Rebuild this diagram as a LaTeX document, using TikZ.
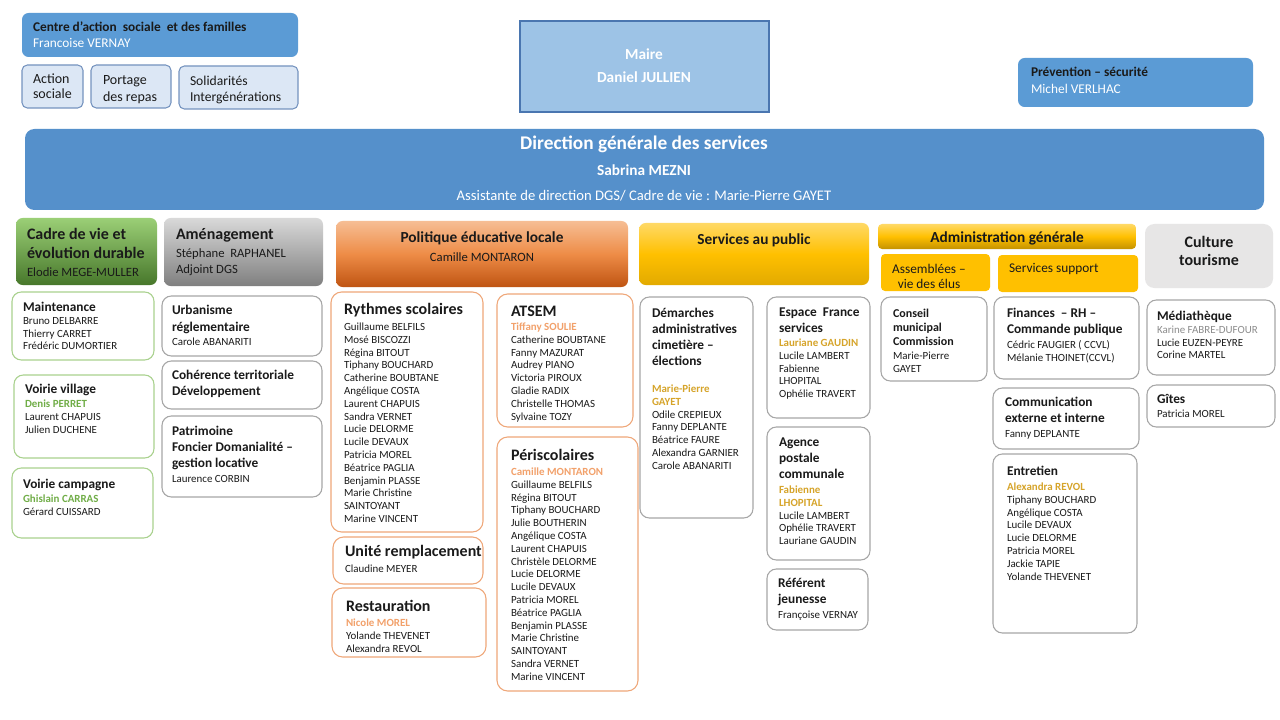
\documentclass[tikz,border=0pt]{standalone}
\usepackage{fontspec}
\setmainfont{Carlito}
\definecolor{txt}{HTML}{1A1A1A}
\definecolor{cblue}{HTML}{5B9BD5}
\definecolor{cdgs}{HTML}{5590CB}
\definecolor{cmaire}{HTML}{9DC3E6}
\definecolor{cmairel}{HTML}{4A76B0}
\definecolor{clight}{HTML}{DCE7F5}
\definecolor{clightl}{HTML}{7593BF}
\definecolor{bgreen}{HTML}{A9D18E}
\definecolor{bgray}{HTML}{A6A6A6}
\definecolor{borange}{HTML}{EFA779}
\definecolor{ngreen}{HTML}{70AD47}
\definecolor{norange}{HTML}{F2A16B}
\definecolor{ngold}{HTML}{D6A42A}
\definecolor{ngray}{HTML}{8C8C8C}
\definecolor{cgold}{HTML}{FFC000}
\definecolor{cculture}{HTML}{E7E6E6}
\definecolor{gtop}{HTML}{9BCF76}
\definecolor{gbot}{HTML}{47772B}
\definecolor{grtop}{HTML}{D9D9D9}
\definecolor{grbot}{HTML}{7F7F7F}
\definecolor{otop}{HTML}{F6BE94}
\definecolor{omid}{HTML}{EE8C47}
\definecolor{obot}{HTML}{BF5412}
\definecolor{ytop}{HTML}{FFD966}
\definecolor{ymid}{HTML}{FFC000}
\definecolor{ybot}{HTML}{E2AA00}
\definecolor{abot}{HTML}{C49200}

\newcommand\fN{\fontsize{8.2}{9.6}\selectfont}
\newcommand\fT{\fontsize{10}{12}\selectfont\bfseries}
\newcommand\fTs{\fontsize{9}{11}\selectfont\bfseries}
\newcommand\fL{\fontsize{12}{14}\selectfont\bfseries}
\newcommand\fs{\rule{0pt}{9pt}}
\newcommand\obox[6]{\node[#2, anchor=north west, minimum width={(#5-#3)*0.75pt}, minimum height={(#6-#4)*0.75pt}] (#1) at (#3,#4) {};}

\begin{document}
\begin{tikzpicture}[x=0.75pt,y=-0.75pt,
  every node/.style={inner sep=0pt, outer sep=0pt},
  wbox/.style={draw=bgray, line width=0.8pt, rounded corners=7pt, fill=white},
  gbox/.style={draw=bgreen, line width=0.8pt, rounded corners=7pt, fill=white},
  orbox/.style={draw=borange, line width=0.8pt, rounded corners=8pt, fill=white},
  sbox/.style={draw=clightl, line width=0.8pt, rounded corners=4pt, fill=clight},
  hbox/.style={draw=none, rounded corners=5pt},
  lbl/.style={anchor=north west, align=left, text=txt, font=\fN, yshift=5.7pt},
  lblc/.style={anchor=north, align=center, text=txt, font=\fN, yshift=5.7pt},
  ctr/.style={anchor=center, align=center, text=txt}
]
\fill[white] (0,0) rectangle (1280,720);
\useasboundingbox (0,0) rectangle (1280,720);

% ---------- top row ----------
\obox{ccas}{hbox, fill=cblue}{22}{13}{298}{57}
\node[lbl, font=\fontsize{10}{12}\selectfont] (ccas-t) at (33,27) {\fs\textbf{Centre d’action~ sociale~ et des familles}\\ \textcolor{white}{Francoise VERNAY}};
\obox{act}{sbox}{22}{65}{83}{108}
\node[lbl, font=\fontsize{10.5}{11.25}\selectfont] (act-t) at (33,79) {\fs Action\\ sociale};
\obox{port}{sbox}{91}{65}{171}{108}
\node[lbl, font=\fontsize{10.5}{12.75}\selectfont] (port-t) at (103,80) {\fs Portage\\ des repas};
\obox{sol}{sbox}{179}{66}{298}{109}
\node[lbl, font=\fontsize{10.2}{12}\selectfont] (sol-t) at (190,81) {\fs Solidarités\\ Intergénérations};

\obox{maire}{draw=cmairel, line width=0.8pt, fill=cmaire}{520}{21}{769}{112}
\node[ctr, text=white, font=\fontsize{11.5}{17}\selectfont\bfseries] (maire-t) at (644,65.5) {Maire\\ Daniel JULLIEN};

\obox{prev}{hbox, fill=cblue}{1018}{58}{1253}{107}
\node[lbl, font=\fontsize{10}{12.75}\selectfont] (prev-t) at (1031,72) {\fs\textbf{Prévention – sécurité}\\ \textcolor{white}{Michel VERLHAC}};

% ---------- DGS ----------
\obox{dgs}{hbox, rounded corners=7pt, fill=cdgs}{25}{129}{1264}{210}
\node[ctr, text=white, font=\fontsize{14.5}{16}\selectfont\bfseries] (dgs-t1) at (644,144) {Direction générale des services};
\node[ctr, text=white, font=\fontsize{11.5}{13}\selectfont\bfseries] (dgs-t2) at (644,170) {Sabrina MEZNI};
\node[ctr, text=white, font=\fontsize{11}{13}\selectfont] (dgs-t3) at (644,196) {Assistante de direction DGS/ Cadre de vie : Marie-Pierre GAYET};

% ---------- headers ----------
\obox{hcadre}{hbox, top color=gtop, bottom color=gbot}{16}{218}{157}{285}
\node[lbl, font=\fontsize{12}{14.25}\selectfont\bfseries] (hcadre-t) at (27,235) {\fs Cadre de vie et\\ évolution durable\\[-0.9pt] {\fontsize{9.5}{11}\selectfont\mdseries Elodie MEGE-MULLER}};

\obox{ham}{hbox, top color=grtop, bottom color=grbot}{164}{218}{323}{286}
\node[lbl, font=\fontsize{9.5}{12}\selectfont] (ham-t) at (176,235) {\fs{\fL Aménagement}\\[1.5pt] Stéphane~ RAPHANEL\\ Adjoint DGS};

\obox{hpol}{hbox, top color=otop, bottom color=obot, middle color=omid}{336}{221}{628}{287}
\node[lblc, font=\fontsize{9.5}{14.25}\selectfont] (hpol-t) at (482,238) {\fs{\fontsize{11.5}{14}\selectfont\bfseries Politique éducative locale}\\ Camille MONTARON};

\obox{hsp}{hbox, top color=ytop, bottom color=ybot, middle color=ymid}{639}{223}{869}{285}
\node[ctr, font=\fontsize{11.5}{14}\selectfont\bfseries] (hsp-t) at (754,240) {Services au public};

\obox{hadm}{hbox, rounded corners=3pt, top color=ytop, bottom color=abot, middle color=ymid}{878}{224}{1136}{249}
\node[ctr, font=\fontsize{11.5}{14}\selectfont\bfseries] (hadm-t) at (1007,238) {Administration générale};

\obox{hass}{hbox, rounded corners=3pt, fill=cgold}{881}{254}{990}{291}
\node[ctr, font=\fontsize{10}{11.25}\selectfont] (hass-t) at (929,276) {Assemblées –\\ vie des élus};
\obox{hsup}{hbox, rounded corners=3pt, fill=cgold}{998}{255}{1138}{292}
\node[ctr, anchor=west, font=\fontsize{10}{12}\selectfont] (hsup-t) at (1009,269) {Services support};

\obox{hcul}{hbox, rounded corners=7pt, fill=cculture}{1145}{224}{1273}{288}
\node[ctr, font=\fontsize{12}{13.5}\selectfont\bfseries] (hcul-t) at (1209,251) {Culture\\ tourisme};

% ---------- column 1 ----------
\obox{mnt}{gbox}{12}{292}{154}{360}
\node[lbl] (mnt-t) at (23,307) {\fs{\fT Maintenance}\\ Bruno DELBARRE\\ Thierry CARRET\\ Frédéric DUMORTIER};
\obox{vv}{gbox}{14}{375}{154}{458}
\node[lbl] (vv-t) at (25,389) {\fs{\fT Voirie village}\\[0.9pt] \textcolor{ngreen}{\bfseries Denis PERRET}\\ Laurent CHAPUIS\\ Julien DUCHENE};
\obox{vc}{gbox}{12}{468}{153}{538}
\node[lbl] (vc-t) at (23,484) {\fs{\fT Voirie campagne}\\[0.9pt] \textcolor{ngreen}{\bfseries Ghislain CARRAS}\\ Gérard CUISSARD};

% ---------- column 2 ----------
\obox{urb}{wbox}{162}{296}{322}{356}
\node[lbl] (urb-t) at (172,310) {\fs{\fT Urbanisme}\\[3.15pt] {\fT réglementaire}\\[0.9pt] Carole ABANARITI};
\obox{coh}{wbox}{162}{361}{322}{409}
\node[lbl] (coh-t) at (172,375) {\fs{\fT Cohérence territoriale}\\[2.4pt] {\fT Développement}};
\obox{pat}{wbox}{162}{416}{322}{497}
\node[lbl] (pat-t) at (172,431) {\fs{\fT Patrimoine}\\[2.4pt] {\fT Foncier Domanialité –}\\[2.4pt] {\fT gestion locative}\\[1.65pt] Laurence CORBIN};

% ---------- column 3 ----------
\obox{ryt}{orbox}{331}{292}{483}{532}
\node[lbl] (ryt-t) at (344,310) {\fs{\fL Rythmes scolaires}\\[2.4pt] Guillaume BELFILS\\ Mosé BISCOZZI\\ Régina BITOUT\\ Tiphany BOUCHARD\\ Catherine BOUBTANE\\ Angélique COSTA\\ Laurent CHAPUIS\\ Sandra VERNET\\ Lucie DELORME\\ Lucile DEVAUX\\ Patricia MOREL\\ Béatrice PAGLIA\\ Benjamin PLASSE\\ Marie Christine\\ SAINTOYANT\\ Marine VINCENT};
\obox{uni}{orbox}{333}{537}{483}{584}
\node[lbl] (uni-t) at (345,552) {\fs{\fL Unité remplacement}\\[2.4pt] Claudine MEYER};
\obox{res}{orbox}{332}{588}{486}{657}
\node[lbl] (res-t) at (346,607) {\fs{\fL Restauration}\\[1.65pt] \textcolor{norange}{\bfseries Nicole MOREL}\\ Yolande THEVENET\\ Alexandra REVOL};
\obox{ats}{orbox}{497}{294}{633}{427}
\node[lbl] (ats-t) at (511,312) {\fs{\fL ATSEM}\\[0.9pt] \textcolor{norange}{\bfseries Tiffany SOULIE}\\ Catherine BOUBTANE\\ Fanny MAZURAT\\ Audrey PIANO\\ Victoria PIROUX\\ Gladie RADIX\\ Christelle THOMAS\\ Sylvaine TOZY};
\obox{per}{orbox}{497}{437}{638}{691}
\node[lbl] (per-t) at (511,456) {\fs{\fL Périscolaires}\\[1.65pt] \textcolor{norange}{\bfseries Camille MONTARON}\\ Guillaume BELFILS\\ Régina BITOUT\\ Tiphany BOUCHARD\\ Julie BOUTHERIN\\ Angélique COSTA\\ Laurent CHAPUIS\\ Christèle DELORME\\ Lucie DELORME\\ Lucile DEVAUX\\ Patricia MOREL\\ Béatrice PAGLIA\\ Benjamin PLASSE\\ Marie Christine\\ SAINTOYANT\\ Sandra VERNET\\ Marine VINCENT};

% ---------- column 4 ----------
\obox{dem}{wbox}{640}{297}{753}{518}
\node[lbl] (dem-t) at (652,313) {\fs{\fT Démarches}\\[2.4pt] {\fT administratives}\\[2.4pt] {\fT cimetière –}\\[2.4pt] {\fT élections}\\[10.65pt] \textcolor{ngold}{\bfseries Marie-Pierre}\\ \textcolor{ngold}{\bfseries GAYET}\\ Odile CREPIEUX\\ Fanny DEPLANTE\\ Béatrice FAURE\\ Alexandra GARNIER\\ Carole ABANARITI};
\obox{esp}{wbox}{767}{297}{870}{418}
\node[lbl] (esp-t) at (779,312) {\fs{\fT Espace~ France}\\[2.4pt] {\fT services}\\[0.9pt] \textcolor{ngold}{\bfseries Lauriane GAUDIN}\\ Lucile LAMBERT\\ Fabienne\\ LHOPITAL\\ Ophélie TRAVERT};
\obox{age}{wbox}{767}{427}{870}{560}
\node[lbl] (age-t) at (779,442) {\fs{\fT Agence}\\[2.4pt] {\fT postale}\\[2.4pt] {\fT communale}\\[1.65pt] \textcolor{ngold}{\bfseries Fabienne}\\ \textcolor{ngold}{\bfseries LHOPITAL}\\ Lucile LAMBERT\\ Ophélie TRAVERT\\ Lauriane GAUDIN};
\obox{ref}{wbox}{767}{569}{868}{630}
\node[lbl] (ref-t) at (778,583) {\fs{\fT Référent}\\[2.4pt] {\fT jeunesse}\\[1.65pt] Françoise VERNAY};

% ---------- column 5 ----------
\obox{con}{wbox}{881}{297}{987}{381}
\node[lbl] (con-t) at (893,313) {\fs{\fTs Conseil}\\[0.9pt] {\fTs municipal}\\[0.9pt] {\fTs Commission}\\[0.9pt] Marie-Pierre\\ GAYET};
\obox{fin}{wbox}{994}{297}{1139}{379}
\node[lbl] (fin-t) at (1007,313) {\fs{\fT Finances~ – RH –}\\[2.4pt] {\fT Commande publique}\\[1.65pt] Cédric FAUGIER ( CCVL)\\ Mélanie THOINET(CCVL)};
\obox{com}{wbox}{993}{388}{1139}{449}
\node[lbl] (com-t) at (1005,402) {\fs{\fT Communication}\\[2.4pt] {\fT externe et interne}\\[1.65pt] Fanny DEPLANTE};
\obox{ent}{wbox}{993}{454}{1137}{633}
\node[lbl] (ent-t) at (1007,471) {\fs{\fT Entretien}\\[1.65pt] \textcolor{ngold}{\bfseries Alexandra REVOL}\\ Tiphany BOUCHARD\\ Angélique COSTA\\ Lucile DEVAUX\\ Lucie DELORME\\ Patricia MOREL\\ Jackie TAPIE\\ Yolande THEVENET};

% ---------- column 6 ----------
\obox{med}{wbox}{1147}{300}{1275}{375}
\node[lbl] (med-t) at (1157,316) {\fs{\fT Médiathèque}\\ \textcolor{ngray}{Karine FABRE-DUFOUR}\\ Lucie EUZEN-PEYRE\\ Corine MARTEL};
\obox{git}{wbox}{1147}{385}{1275}{427}
\node[lbl] (git-t) at (1157,399) {\fs{\fT Gîtes}\\[0.9pt] Patricia MOREL};
\end{tikzpicture}
\end{document}
